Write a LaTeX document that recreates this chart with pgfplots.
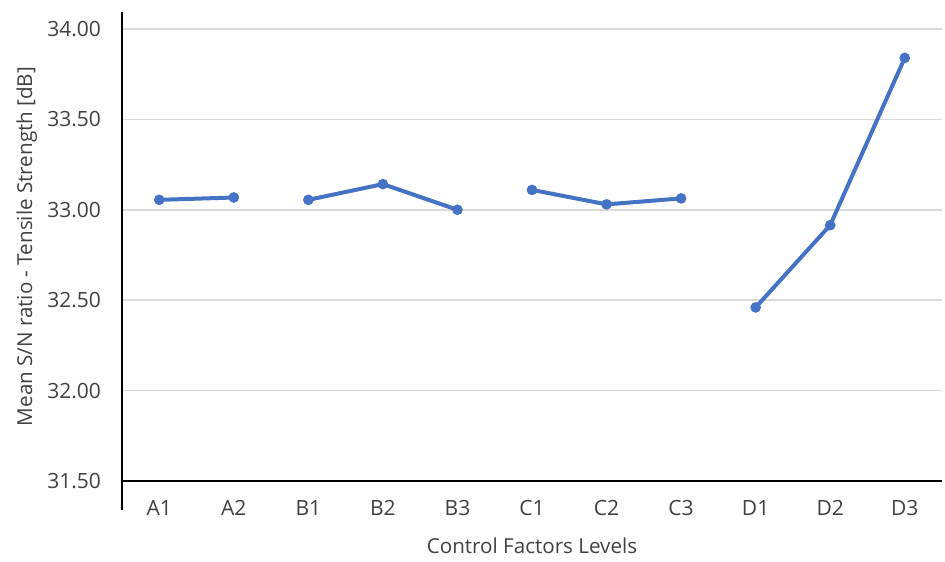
\documentclass[border=0pt]{standalone}
\usepackage{fontspec}
\setmainfont{Open Sans}
\usepackage{pgfplots}
\pgfplotsset{compat=1.18}
\definecolor{lineblue}{HTML}{4472C4}
\definecolor{gridgray}{HTML}{D9D9D9}
\definecolor{txt}{HTML}{404040}
\tikzset{sn/.style={color=lineblue, line width=2pt, mark=*, mark size=2.4pt, mark options={fill=lineblue, draw=lineblue, line width=0.5pt}}}
\begin{document}
\begin{tikzpicture}
\begin{axis}[
  name=ax,
  scale only axis,
  width=410pt, height=234.5pt,
  xmin=-0.5, xmax=10.5,
  ymin=31.5, ymax=34.094,
  axis line style={draw=none},
  xtick={0,...,10},
  xticklabels={A1,A2,B1,B2,B3,C1,C2,C3,D1,D2,D3},
  ytick={31.5,32,32.5,33,33.5,34},
  major tick length=0pt,
  ymajorgrids=true,
  grid style={gridgray, line width=0.8pt},
  /pgf/number format/assume math mode=true,
  yticklabel={\pgfmathprintnumber[fixed,fixed zerofill,precision=2]{\tick}},
  tick label style={font=\fontsize{10.5}{12}\selectfont, text=txt},
  yticklabel style={xshift=-7pt},
  xticklabel style={yshift=-6pt},
  xlabel={Control Factors Levels},
  ylabel={Mean S/N ratio - Tensile Strength [dB]},
  label style={font=\fontsize{10.3}{12}\selectfont, text=txt},
  xlabel style={at={(axis description cs:0.5,0)}, anchor=center, yshift=-32.5pt},
  ylabel style={at={(axis description cs:-0.116,0.5)}, anchor=center, rotate=0},
  clip=false,
]
\addplot[sn] coordinates {(0,33.055) (1,33.068)};
\addplot[sn] coordinates {(2,33.055) (3,33.142) (4,33.00)};
\addplot[sn] coordinates {(5,33.11) (6,33.03) (7,33.063)};
\addplot[sn] coordinates {(8,32.46) (9,32.915) (10,33.84)};
\draw[black, line width=0.8pt] (axis cs:-0.5,31.5) -- (axis cs:10.5,31.5);
\draw[black, line width=0.8pt] (axis cs:-0.5,31.34) -- (axis cs:-0.5,34.094);
\end{axis}
\pgfresetboundingbox
\path ([xshift=-61pt,yshift=-40pt]ax.south west) rectangle ([xshift=1.5pt,yshift=6pt]ax.north east);
\end{tikzpicture}
\end{document}
